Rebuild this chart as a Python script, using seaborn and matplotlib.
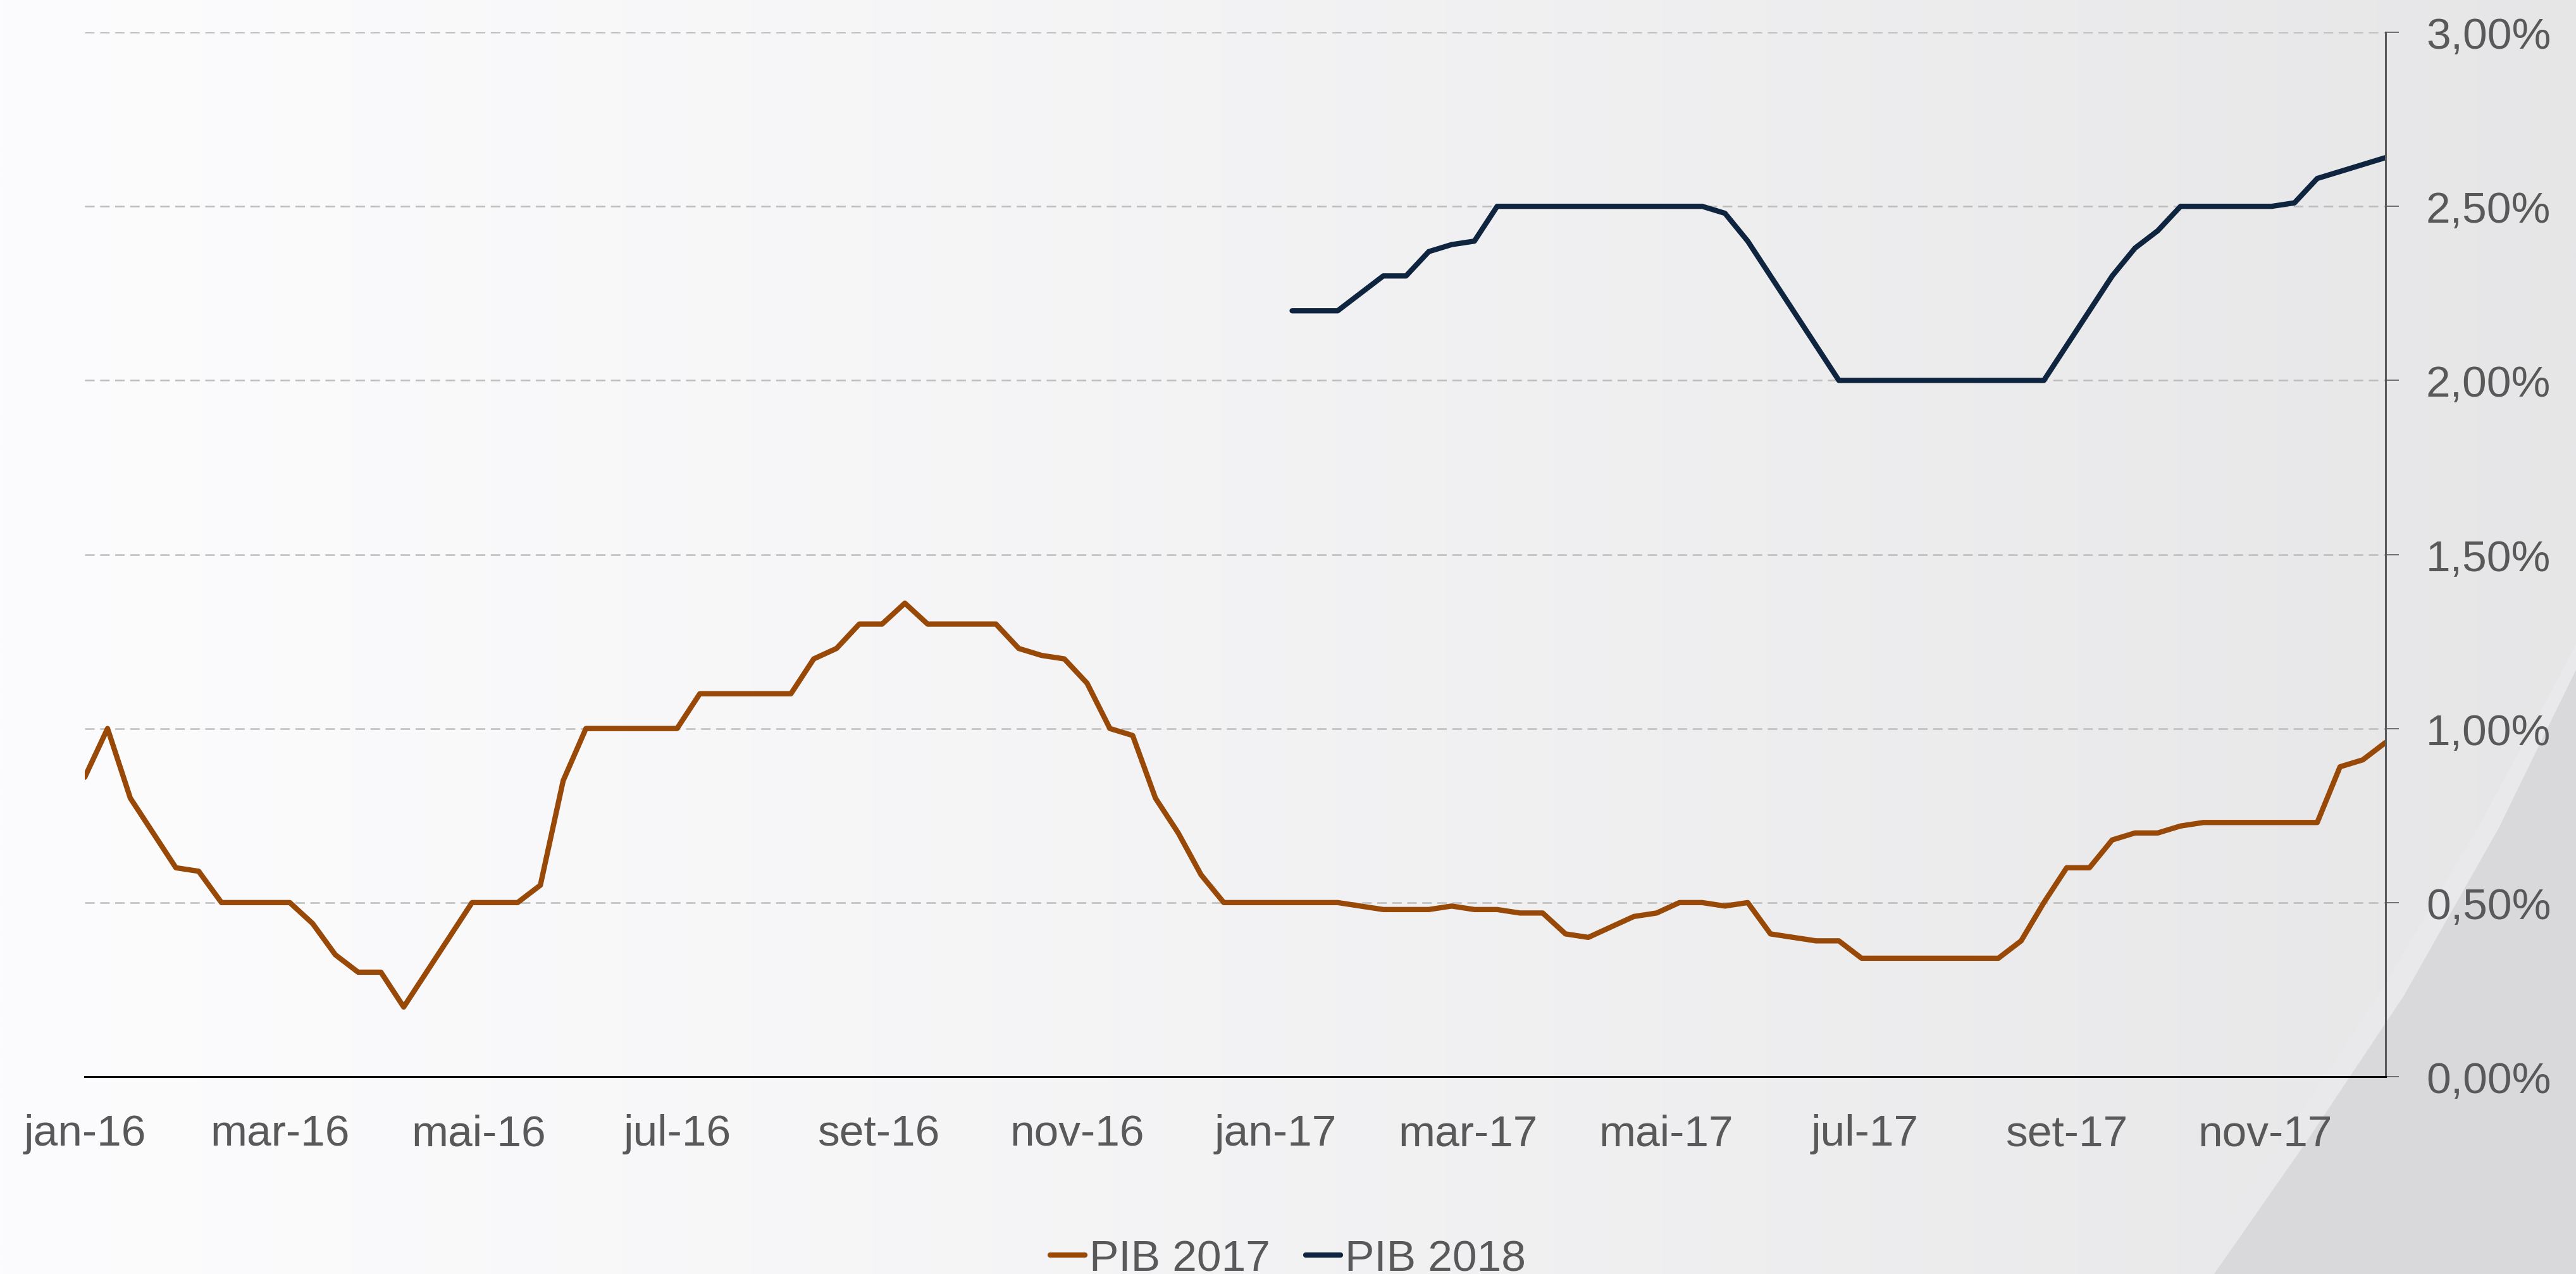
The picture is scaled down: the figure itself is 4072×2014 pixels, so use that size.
import numpy as np
import pandas as pd
import matplotlib
matplotlib.use("Agg")
import matplotlib.pyplot as plt
import seaborn as sns
from matplotlib.patches import Polygon

# expectativas semanais do PIB (Focus), em %
inicio = "2016-01-01"
n_semanas = 102
inicio_2018 = 53  # primeira semana com PIB 2018

pib_2017 = [
    0.86, 1.00, 0.80, 0.70, 0.60, 0.59, 0.50, 0.50, 0.50, 0.50,
    0.44, 0.35, 0.30, 0.30, 0.20, 0.30, 0.40, 0.50, 0.50, 0.50,
    0.55, 0.85, 1.00, 1.00, 1.00, 1.00, 1.00, 1.10, 1.10, 1.10,
    1.10, 1.10, 1.20, 1.23, 1.30, 1.30, 1.36, 1.30, 1.30, 1.30,
    1.30, 1.23, 1.21, 1.20, 1.13, 1.00, 0.98, 0.80, 0.70, 0.58,
    0.50, 0.50, 0.50, 0.50, 0.50, 0.50, 0.49, 0.48, 0.48, 0.48,
    0.49, 0.48, 0.48, 0.47, 0.47, 0.41, 0.40, 0.43, 0.46, 0.47,
    0.50, 0.50, 0.49, 0.50, 0.41, 0.40, 0.39, 0.39, 0.34, 0.34,
    0.34, 0.34, 0.34, 0.34, 0.34, 0.39, 0.50, 0.60, 0.60, 0.68,
    0.70, 0.70, 0.72, 0.73, 0.73, 0.73, 0.73, 0.73, 0.73, 0.89,
    0.91, 0.96,
]

pib_2018 = [
    2.20, 2.20, 2.20, 2.25, 2.30, 2.30, 2.37, 2.39, 2.40, 2.50,
    2.50, 2.50, 2.50, 2.50, 2.50, 2.50, 2.50, 2.50, 2.50, 2.48,
    2.40, 2.30, 2.20, 2.10, 2.00, 2.00, 2.00, 2.00, 2.00, 2.00,
    2.00, 2.00, 2.00, 2.00, 2.10, 2.20, 2.30, 2.38, 2.43, 2.50,
    2.50, 2.50, 2.50, 2.50, 2.51, 2.58, 2.60, 2.62, 2.64,
]

meses = ["jan", "fev", "mar", "abr", "mai", "jun", "jul", "ago", "set", "out", "nov", "dez"]
y_ticks = [0.0, 0.5, 1.0, 1.5, 2.0, 2.5, 3.0]

cores = {"PIB 2017": "#984807", "PIB 2018": "#0f243e"}
cinza_texto = "#595959"

datas = pd.date_range(inicio, periods=n_semanas, freq="7D")
df = pd.concat([
    pd.DataFrame({"data": datas, "valor": pib_2017, "serie": "PIB 2017"}),
    pd.DataFrame({"data": datas[inicio_2018:], "valor": pib_2018, "serie": "PIB 2018"}),
], ignore_index=True)

sns.set_style("white")
plt.rcParams["font.family"] = ["Liberation Sans", "DejaVu Sans"]

W, H = 4072, 2015
fig = plt.figure(figsize=(W / 100, H / 100), dpi=100)

# fundo em degrade com a faixa cinza no canto inferior direito
bg = fig.add_axes([0, 0, 1, 1], zorder=0)
t = np.linspace(0, 1, 600)
tom = 252 - 22 * t ** 1.2
grad = np.stack([tom, tom, tom + 1.5], axis=-1)[None, :, :] / 255
bg.imshow(np.clip(grad, 0, 1), aspect="auto", extent=[0, 1, 0, 1], interpolation="bilinear")
faixa = [(3460, 2015), (3610, 1800), (3765, 1565), (3925, 1295), (4072, 1020), (4072, 1060),
         (3950, 1310), (3800, 1575), (3650, 1800), (3500, 2015)]
bg.add_patch(Polygon([(x / W, 1 - y / H) for x, y in faixa], closed=True,
                     facecolor="#e9e9eb", edgecolor="none"))
canto = [(3500, 2015), (3650, 1800), (3800, 1575), (3950, 1310), (4072, 1060), (4072, 2015)]
bg.add_patch(Polygon([(x / W, 1 - y / H) for x, y in canto], closed=True,
                     facecolor="#d9d9db", edgecolor="none"))
bg.set_xlim(0, 1)
bg.set_ylim(0, 1)
bg.axis("off")

ax = fig.add_axes([134 / W, 312 / H, (3771 - 134) / W, (1703 - 52) / H], zorder=1)
ax.patch.set_alpha(0)

sns.lineplot(data=df, x="data", y="valor", hue="serie", palette=cores,
             linewidth=6, estimator=None, ax=ax)
for ln in ax.lines:
    ln.set_linewidth(6)
    ln.set_solid_joinstyle("round")

ax.set_ylim(0, 3)
ax.set_yticks(y_ticks)
ax.set_yticklabels([f"{v:.2f}".replace(".", ",") + "%" for v in y_ticks])
ax.set_xlim(datas[0], datas[-1])
marcas = pd.date_range("2016-01-01", "2017-11-01", freq="2MS")
ax.set_xticks(marcas)
ax.set_xticklabels([f"{meses[d.month - 1]}-{d.strftime('%y')}" for d in marcas])
ax.set_xlabel("")
ax.set_ylabel("")

ax.yaxis.tick_right()
ax.spines["left"].set_visible(False)
ax.spines["top"].set_visible(False)
ax.spines["right"].set_color(cinza_texto)
ax.spines["right"].set_linewidth(2.2)
ax.spines["bottom"].set_color("black")
ax.spines["bottom"].set_linewidth(2.2)

ax.tick_params(axis="y", direction="out", length=15, width=1.2, color=cinza_texto,
               pad=31, labelsize=50, labelcolor=cinza_texto, right=True, left=False)
ax.tick_params(axis="x", direction="out", length=14, width=2, color="black",
               pad=28, labelsize=50, labelcolor=cinza_texto)

ax.grid(axis="y", color="#bdbdbd", linestyle=(0, (6, 3.5)), linewidth=1.8)
ax.grid(axis="x", visible=False)
ax.set_axisbelow(True)

handles, labels = ax.get_legend_handles_labels()
ax.get_legend().remove()
for h in handles:
    h.set_linewidth(6)
    h.set_solid_capstyle("round")
fig.legend(handles, labels, loc="lower center", bbox_to_anchor=(0.5, -0.004), ncol=2,
           frameon=False, fontsize=50, handlelength=0.8, handletextpad=0.1,
           columnspacing=0.8, borderpad=0, borderaxespad=0, labelcolor=cinza_texto)

fig.savefig("out.png", dpi=100)
